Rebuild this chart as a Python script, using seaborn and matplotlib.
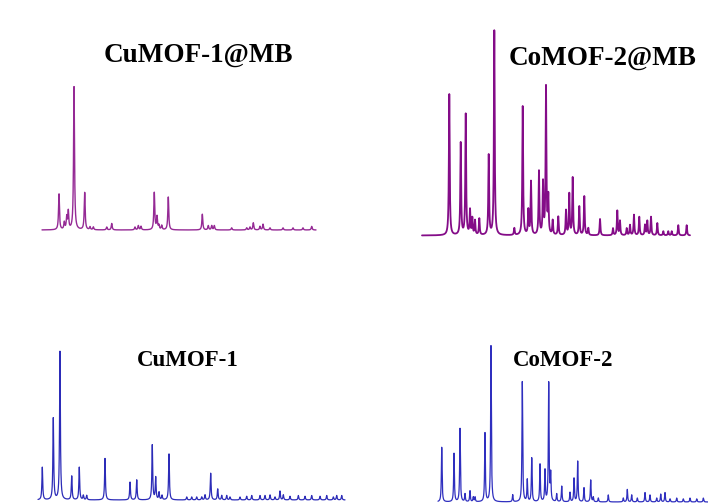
import numpy as np
import pandas as pd
import matplotlib
matplotlib.use("Agg")
import matplotlib.pyplot as plt
import seaborn as sns

sns.set_theme(style="white")
plt.rcParams["font.family"] = ["Liberation Serif", "DejaVu Serif"]

# ---- data: peak positions (2theta, deg) and relative intensities (% of max) ----
titles = ["CuMOF-1@MB", "CoMOF-2@MB", "CuMOF-1", "CoMOF-2"]

cu_mb_pos = [7.79, 8.66, 9.06, 9.32, 10.26, 12.01, 12.88, 13.43, 15.63, 16.45,
             20.27, 20.82, 21.26, 23.44, 23.89, 24.2, 24.66, 25.74, 31.33, 32.31,
             32.87, 33.3, 36.15, 38.62, 39.16, 39.70, 40.8, 41.3, 42.44, 44.58,
             46.22, 47.86, 49.29]
cu_mb_int = [25, 5, 8.5, 12.5, 100, 26, 2, 2, 2, 4.5,
             2, 3, 2.5, 26, 9, 3, 3, 23, 11, 3,
             3, 3, 1.5, 1.5, 2, 5, 2.5, 4, 1.5, 1.5,
             1.5, 1.5, 2.5]

co_mb_pos = [9.58, 11.50, 12.34, 13.06, 13.45, 13.90, 14.62, 16.20, 17.14, 20.50,
             21.91, 22.85, 23.30, 24.64, 25.32, 25.82, 26.21, 26.94, 27.88, 29.18,
             29.73, 30.30, 31.41, 32.25, 32.92, 34.89, 37.07, 37.79, 38.24, 39.37,
             39.92, 40.59, 41.48, 42.44, 42.83, 43.45, 44.51, 45.52, 46.35, 46.93,
             48.03, 49.44]
co_mb_int = [69, 45, 59, 12, 8, 7, 8, 39, 100, 3.4,
             63, 12, 26, 31, 25, 72, 18, 7, 9, 12,
             20, 28, 14, 19, 3.4, 8, 3.4, 12, 7, 3.4,
             5, 10, 9, 5, 7, 9, 6, 2, 2, 2,
             5, 5]

cu_pos = [5.63, 7.24, 8.22, 9.94, 11.05, 11.64, 12.14, 14.82, 18.49, 19.47,
          21.75, 22.25, 22.74, 23.18, 24.20, 26.80, 27.53, 28.26, 29.00, 29.48,
          30.31, 31.34, 31.93, 32.66, 33.14, 34.61, 35.59, 36.33, 37.54, 38.27,
          39.01, 39.74, 40.47, 40.96, 41.94, 43.16, 44.14, 45.12, 46.34, 47.32,
          48.29, 48.78, 49.52]
cu_int = [22, 55, 100, 16, 22, 3, 3, 28, 12, 13.5,
          37, 15, 5, 3, 31, 2, 2, 2, 2, 3.4,
          18, 7.4, 3, 3, 2, 2, 2.5, 3, 3, 3,
          3.4, 2, 6, 3.4, 2.5, 3, 2.5, 3, 2.5, 3,
          2, 3, 3]

co_pos = [5.62, 7.67, 8.67, 9.5, 10.33, 10.88, 11.17, 12.83, 13.83, 17.45,
          19.05, 19.88, 20.62, 22.0, 22.83, 23.45, 23.78, 24.78, 25.62, 27.0,
          27.67, 28.28, 29.33, 30.45, 30.88, 31.72, 33.38, 35.88, 36.55, 37.28,
          38.22, 39.5, 40.33, 41.45, 42.12, 42.83, 43.67, 44.78, 45.88, 47.0,
          48.12, 49.22]
co_int = [35, 31, 47, 5, 7, 3, 3, 44, 100, 4.5,
          77, 14, 28, 24, 20, 76, 17, 5, 10, 6,
          15, 26, 9, 14, 3, 2.5, 4.5, 2.5, 8, 4.5,
          2.5, 6, 4.5, 2.5, 5, 6, 2, 2.5, 2, 2.5,
          2, 2.5]

peaks = [(cu_mb_pos, cu_mb_int), (co_mb_pos, co_mb_int), (cu_pos, cu_int), (co_pos, co_int)]

# ---- layout (pixels): left, right, top (100 %), baseline ----
W, H = 708, 503
rects = [(42, 316, 87, 230), (422, 690, 31, 235.5), (38, 345, 351.7, 500), (438, 708, 346, 502)]
colors = ["#952a95", "#840c88", "#2c2cb8", "#2f2fbf"]
lws = [1.0, 1.3, 0.9, 0.9]
hws = [0.09, 0.08, 0.07, 0.07]
title_xy = [(198, 62), (603, 65), (188, 366.5), (563, 365.5)]
title_fs = [19.5, 19.5, 16.5, 16.5]


def pattern(pos, inten, hw):
    x = np.arange(5.0, 50.0001, 0.005)
    y = np.zeros_like(x)
    for p, h in zip(pos, inten):
        y += h * hw ** 2 / ((x - p) ** 2 + hw ** 2)
    return pd.DataFrame({"two_theta": x, "intensity": y})


fig = plt.figure(figsize=(W / 100, H / 100), dpi=100)
fig.patch.set_facecolor("white")

for i, ((pos, inten), (l, r, t, b)) in enumerate(zip(peaks, rects)):
    ax = fig.add_axes([l / W, (H - b) / H, (r - l) / W, (b - t) / H])
    df = pattern(pos, inten, hws[i])
    sns.lineplot(data=df, x="two_theta", y="intensity", ax=ax, color=colors[i],
                 lw=lws[i], estimator=None, sort=False, clip_on=False)
    ax.set_xlim(5, 50)
    ax.set_ylim(0, 100)
    ax.set_axis_off()
    tx, ty = title_xy[i]
    fig.text(tx / W, 1 - ty / H, titles[i], ha="center", va="baseline",
             fontsize=title_fs[i], fontweight="bold", color="black")

fig.savefig("out.png", dpi=100, facecolor="white")
